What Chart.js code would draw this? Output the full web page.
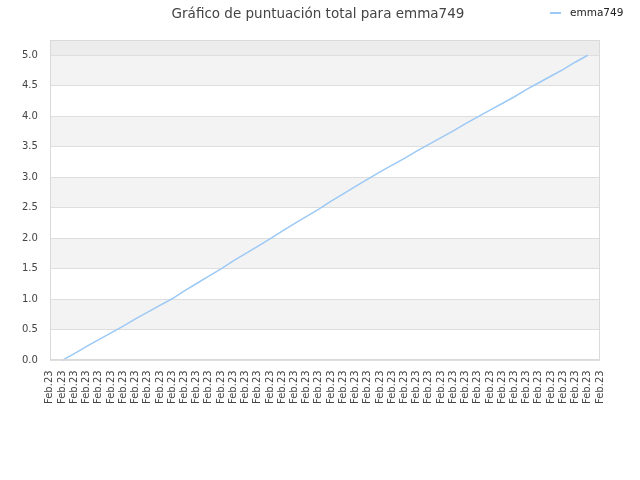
<!DOCTYPE html>
<html>
<head>
<meta charset="utf-8">
<script src="https://cdn.jsdelivr.net/npm/chart.js@4"></script>
<style>
  html, body { margin: 0; padding: 0; background: #fff; }
  #wrap { position: relative; width: 640px; height: 480px; }
  #title { position: absolute; top: 5px; left: 0; width: 636px; text-align: center; font: 13.5px/16px "DejaVu Sans", sans-serif; color: #444; }
  #legend { position: absolute; top: 6px; left: 550px; font: 10.5px "DejaVu Sans", sans-serif; color: #222; white-space: nowrap; }
  #legend span.swatch { display: inline-block; width: 11px; height: 0; border-top: 2px solid #9cc9f5; vertical-align: middle; margin-right: 9px; }
</style>
</head>
<body>
<div id="wrap">
  <canvas id="myChart" width="640" height="480"></canvas>
  <div id="title">Gráfico de puntuación total para emma749</div>
  <div id="legend"><span class="swatch"></span>emma749</div>
</div>
<script>
// 46 categorias, todas del mismo dia
var labels = [];
for (var i = 0; i < 46; i++) labels.push('Feb.23');

// puntuacion total (primer y ultimo punto sin valor)
var scores = [null,
    0.00, 0.11, 0.23, 0.34, 0.45, 0.56, 0.68, 0.79, 0.90, 1.01,
    1.14, 1.26, 1.38, 1.50, 1.63, 1.75, 1.87, 1.99, 2.12, 2.24,
    2.36, 2.48, 2.61, 2.73, 2.85, 2.97, 3.09, 3.20, 3.31, 3.43,
    3.54, 3.65, 3.76, 3.88, 3.99, 4.10, 4.21, 4.32, 4.44, 4.55,
    4.66, 4.77, 4.89, 5.00,
    null];

var seriesName = 'emma749';
var yMax = 5.25;

// franjas alternas de fondo y borde del area
var bandsPlugin = {
    id: 'bands',
    beforeDraw: function (chart) {
        var ctx = chart.ctx, area = chart.chartArea, y = chart.scales.y;
        ctx.save();
        for (var v = 0; v < yMax; v += 0.5) {
            var top = Math.min(v + 0.5, yMax);
            var fill = null;
            if (v >= 5) fill = '#ececec';
            else if ((v / 0.5) % 2 === 1) fill = '#f3f3f3';
            if (fill) {
                ctx.fillStyle = fill;
                var y1 = y.getPixelForValue(top), y0 = y.getPixelForValue(v);
                ctx.fillRect(area.left, y1, area.right - area.left, y0 - y1);
            }
        }
        ctx.restore();
    },
    afterDraw: function (chart) {
        var ctx = chart.ctx, area = chart.chartArea;
        ctx.save();
        ctx.strokeStyle = '#dadada';
        ctx.lineWidth = 1;
        ctx.strokeRect(Math.round(area.left) + 0.5, Math.round(area.top) + 0.5,
            Math.round(area.right - area.left) - 1, Math.round(area.bottom - area.top) - 1);
        ctx.restore();
    }
};

var ctx = document.getElementById('myChart').getContext('2d');
var myChart = new Chart(ctx, {
    type: 'line',
    data: {
        labels: labels,
        datasets: [{
            label: seriesName,
            data: scores,
            borderColor: '#9cc9f5',
            backgroundColor: '#9cc9f5',
            borderWidth: 1.5,
            pointRadius: 0,
            tension: 0,
            fill: false
        }]
    },
    plugins: [bandsPlugin],
    options: {
        responsive: false,
        animation: false,
        layout: { padding: { left: 10, right: 40, top: 40, bottom: 66 } },
        plugins: {
            legend: { display: false },
            tooltip: { enabled: false },
            title: { display: false }
        },
        scales: {
            x: {
                offset: false,
                grid: { display: false, drawTicks: false },
                border: { display: false },
                ticks: {
                    autoSkip: false,
                    maxRotation: 90,
                    minRotation: 90,
                    padding: 10,
                    color: '#444',
                    font: { family: 'DejaVu Sans', size: 10 }
                }
            },
            y: {
                min: 0,
                max: yMax,
                grid: { color: '#dedede', drawTicks: false },
                border: { display: false },
                ticks: {
                    stepSize: 0.5,
                    includeBounds: false,
                    padding: 12,
                    color: '#444',
                    font: { family: 'DejaVu Sans', size: 10 },
                    callback: function (v) { return v.toFixed(1); }
                }
            }
        }
    }
});
</script>
</body>
</html>
